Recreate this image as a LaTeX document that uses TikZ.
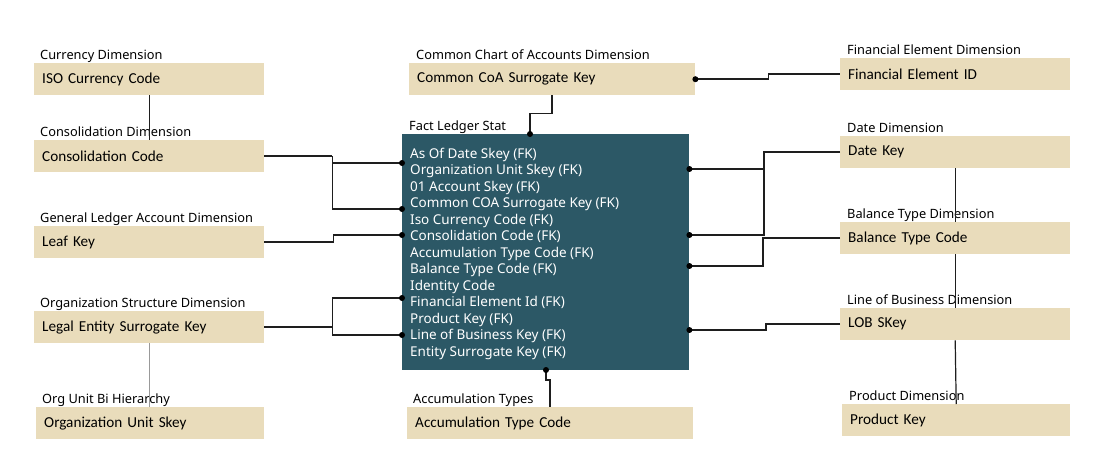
\documentclass[tikz,border=0pt]{standalone}
\usepackage{fontspec}
\setmainfont{Carlito}
\newfontfamily\labelfont{Noto Sans}
\usepackage{tikz}
\usetikzlibrary{positioning}
\definecolor{Sand}     {RGB}{233,220,187}
\definecolor{DeepTeal} {RGB}{44 , 88,102}
\definecolor{LinkGrey} {RGB}{30 , 30, 30}
\tikzset{
  dimbox/.style={
    rectangle, fill=Sand, anchor=north west,
    minimum width=230pt, minimum height=32pt,
    text width=214pt, align=left, inner xsep=8pt, inner ysep=0pt,
    font=\fontsize{15.2}{17}\selectfont
  },
  widebox/.style={dimbox, minimum width=286pt, text width=270pt},
  dimtitle/.style={
    anchor=base west, inner sep=0pt,
    font=\labelfont\fontsize{12.8}{15}\selectfont
  },
  factbox/.style={
    rectangle, fill=DeepTeal, anchor=north west,
    minimum width=287pt, minimum height=236pt
  },
  factrow/.style={
    anchor=base west, inner sep=0pt, text=white,
    font=\labelfont\fontsize{13.5}{16}\selectfont
  },
  link/.style={draw=LinkGrey, line width=1.5pt},
  tie/.style ={draw=LinkGrey, line width=1.2pt},
  softtie/.style={draw=black!40, line width=1.1pt}
}

\begin{document}
\begin{tikzpicture}[x=1pt, y=-1pt]
  \useasboundingbox (0,0) rectangle (1102,458);

  % dimension tables, left column
  \node[dimbox] (iso)   at (34,63)  {ISO Currency Code};
  \node[dimtitle]       at (40,59)  {Currency Dimension};
  \node[dimbox] (cons)  at (34,140) {Consolidation Code};
  \node[dimtitle]       at (40,136) {Consolidation Dimension};
  \node[dimbox] (leaf)  at (34,226) {Leaf Key};
  \node[dimtitle]       at (40,222) {General Ledger Account Dimension};
  \node[dimbox] (legal) at (34,311) {Legal Entity Surrogate Key};
  \node[dimtitle]       at (40,307) {Organization Structure Dimension};
  \node[dimbox, minimum width=228pt, text width=212pt] (orgu) at (36,407) {Organization Unit Skey};
  \node[dimtitle]       at (42,403) {Org Unit Bi Hierarchy};

  % middle column
  \node[widebox] (coa)  at (409,63) {Common CoA Surrogate Key};
  \node[dimtitle]       at (416,59) {Common Chart of Accounts Dimension};
  \node[widebox] (acc)  at (407,407) {Accumulation Type Code};
  \node[dimtitle]       at (413,403) {Accumulation Types};

  % right column
  \node[dimbox] (finel) at (840,58)  {Financial Element ID};
  \node[dimtitle]       at (847,54)  {Financial Element Dimension};
  \node[dimbox] (date)  at (840,136) {Date Key};
  \node[dimtitle]       at (847,132) {Date Dimension};
  \node[dimbox] (bal)   at (840,222) {Balance Type Code};
  \node[dimtitle]       at (847,218) {Balance Type Dimension};
  \node[dimbox] (lob)   at (840,308) {LOB SKey};
  \node[dimtitle]       at (847,304) {Line of Business Dimension};
  \node[dimbox, minimum width=228pt, text width=212pt] (prod) at (842,404) {Product Key};
  \node[dimtitle]       at (849,400) {Product Dimension};

  % fact table
  \node[factbox] (fact) at (402,134) {};
  \node[dimtitle]       at (409,130) {Fact Ledger Stat};
  \foreach \t [count=\i] in {As Of Date Skey (FK), Organization Unit Skey (FK),
      01 Account Skey (FK), Common COA Surrogate Key (FK), Iso Currency Code (FK),
      Consolidation Code (FK), Accumulation Type Code (FK), Balance Type Code (FK),
      Identity Code, Financial Element Id (FK), Product Key (FK),
      Line of Business Key (FK), Entity Surrogate Key (FK)}
    \node[factrow] (row\i) at (410,{141.5+16.5*\i}) {\t};

  % key points on the fact table
  \coordinate (fL1) at (fact.west |- 0,163);
  \coordinate (fL2) at (fact.west |- 0,209);
  \coordinate (fL3) at (fact.west |- 0,235);
  \coordinate (fL4) at (fact.west |- 0,298);
  \coordinate (fL5) at (fact.west |- 0,335);
  \coordinate (fR1) at (fact.east |- 0,169);
  \coordinate (fR2) at (fact.east |- 0,235);
  \coordinate (fR3) at (fact.east |- 0,266);
  \coordinate (fR4) at (fact.east |- 0,330);
  \coordinate (fT)  at (530,134);
  \coordinate (fB)  at (546,370);
  \coordinate (jL1) at ([xshift=68pt]cons.east);
  \coordinate (jL2) at ([xshift=68pt]legal.east);
  \coordinate (jR1) at ([xshift=-76pt]date.west);

  % left side links
  \draw[link] (fL1) -| (jL1) |- (fL2);
  \draw[link] (cons.east) -- (jL1);
  \draw[link] (leaf.east) -- ++(69,0) |- (fL3);
  \draw[link] (fL4) -| (jL2) |- (fL5);
  \draw[link] (legal.east) -- (jL2);

  % top and bottom links
  \draw[link] (coa.south) -- ++(0,18) -| (fT);
  \draw[link] (coa.east) -- ++(73,0) |- (finel.west);
  \draw[link] (fB) -- ++(0,10) -| (acc.north);

  % right side links
  \draw[link] (date.west) -- (jR1) |- (fR2);
  \draw[link] (fR1) -- (fR1 -| jR1);
  \draw[link] (bal.west) -- ++(-77,0) |- (fR3);
  \draw[link] (lob.west) -- ++(-74,0) |- (fR4);

  % links between dimensions
  \draw[tie] (iso.south) -- (cons.north);
  \draw[softtie] (legal.south) -- (legal.south |- orgu.north);
  \draw[tie] (date.south) -- (bal.north);
  \draw[tie] (bal.south) -- (lob.north);
  \draw[tie] (lob.south) -- (prod.north);

  \foreach \p in {fL1,fL2,fL3,fL4,fL5,fR1,fR2,fR3,fR4,fT,fB,coa.east}
    \fill (\p) circle (3pt);
\end{tikzpicture}
\end{document}
